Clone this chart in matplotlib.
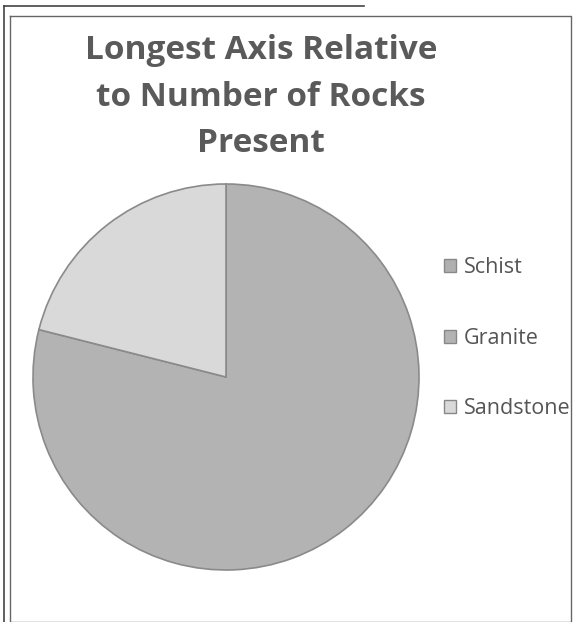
import matplotlib
matplotlib.use("Agg")
import matplotlib.pyplot as plt
from matplotlib.patches import Patch
from matplotlib.lines import Line2D

categories = ["Schist", "Granite", "Sandstone"]
values = [0, 15, 4]
colors = ["#b0b0b0", "#b3b3b3", "#d9d9d9"]
title = "Longest Axis Relative\nto Number of Rocks\nPresent"

W, H = 577, 622
fig = plt.figure(figsize=(W / 100, H / 100), dpi=100)
fig.patch.set_facecolor("white")

def fline(xs, ys, **kw):
    fig.add_artist(Line2D([x / W for x in xs], [1 - y / H for y in ys],
                          transform=fig.transFigure, **kw))

# inner frame
fline([10, 571, 571, 10, 10], [16, 16, 622, 622, 16], color="#666666", lw=1.0)
# scanned outer edge
fline([4, 364], [6, 6], color="#444444", lw=1.2)
fline([4, 4], [6, 622], color="#444444", lw=1.2)

# pie axes: center (226,377), radius 193 px
cx, cy, r = 226, 377, 193
ax = fig.add_axes([(cx - r) / W, (H - cy - r) / H, 2 * r / W, 2 * r / H])
wedges, _ = ax.pie(values, colors=colors, startangle=90, counterclock=False,
                   wedgeprops=dict(edgecolor="#8a8a8a", linewidth=1.2))
ax.set_aspect("auto")
ax.set_xlim(-1, 1)
ax.set_ylim(-1, 1)
ax.axis("off")

fig.text(261 / W, 1 - 97 / H, title, ha="center", va="center",
         fontsize=24, fontweight="bold", color="#5a5a5a",
         family=["Open Sans", "DejaVu Sans"], linespacing=1.55)

handles = [Patch(facecolor=c, edgecolor="#888888", linewidth=1.0) for c in colors]
leg = fig.legend(handles, categories, loc="upper left",
                 bbox_to_anchor=(425 / W, 1 - 238 / H),
                 frameon=False, labelspacing=2.3,
                 handlelength=0.55, handleheight=0.55, handletextpad=0.35,
                 prop=dict(family=["Open Sans", "DejaVu Sans"], size=15.5))
for t in leg.get_texts():
    t.set_color("#555555")

fig.savefig("out.png", dpi=100, facecolor="white")
